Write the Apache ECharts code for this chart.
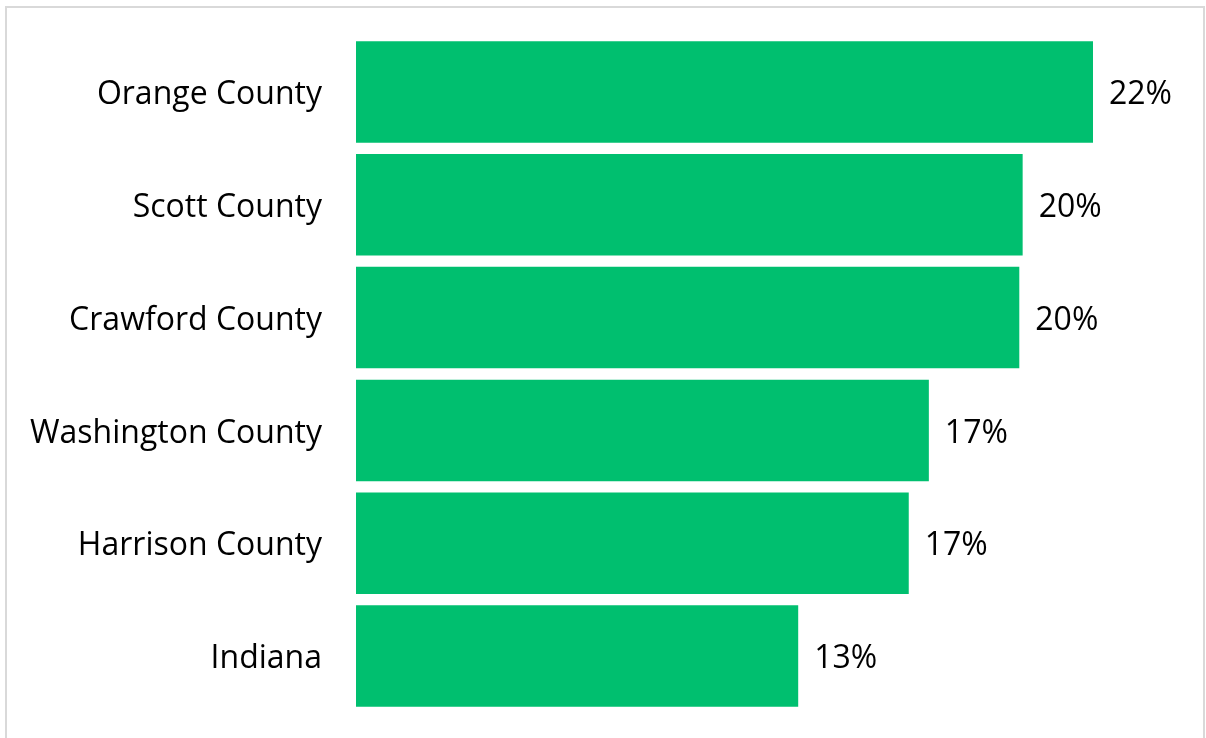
<!DOCTYPE html>
<html>
<head>
<meta charset="utf-8">
<script src="https://cdn.jsdelivr.net/npm/echarts@6/dist/echarts.min.js"></script>
<style>
  html, body { margin: 0; padding: 0; background: #fff; }
  #chart { width: 1206px; height: 738px; }
</style>
</head>
<body>
<div id="chart"></div>
<script>
// Share of population by area
const categories = ['Orange County', 'Scott County', 'Crawford County', 'Washington County', 'Harrison County', 'Indiana'];
const shares = [0.22, 0.199, 0.198, 0.171, 0.165, 0.132];

const FONT = '"Open Sans", Lato, sans-serif';

const chart = echarts.init(document.getElementById('chart'), null, { renderer: 'canvas' });
chart.setOption({
  animation: false,
  backgroundColor: '#ffffff',
  graphic: [{
    type: 'rect',
    shape: { x: 6, y: 7, width: 1198, height: 740 },
    style: { fill: 'none', stroke: '#d9d9d9', lineWidth: 2 },
    silent: true
  }],
  grid: { left: 356, right: 12.5, top: 35.5, bottom: 25.5 },
  xAxis: {
    type: 'value',
    min: 0,
    max: 0.25,
    show: false
  },
  yAxis: {
    type: 'category',
    data: categories,
    inverse: true,
    axisLine: { show: false },
    axisTick: { show: false },
    axisLabel: {
      margin: 34,
      color: '#000',
      fontFamily: FONT,
      fontSize: 32,
      formatter: v => '{n|' + v + '}',
      rich: {
        n: {
          color: '#000',
          fontFamily: FONT,
          fontSize: 32,
          padding: [6, 0, 0, 0]
        }
      }
    }
  },
  series: [{
    type: 'bar',
    data: shares,
    barCategoryGap: '10%',
    itemStyle: { color: '#00BF6F' },
    label: {
      show: true,
      position: 'right',
      distance: 16,
      offset: [0, 3],
      color: '#000',
      fontFamily: FONT,
      fontSize: 32,
      formatter: p => Math.round(p.value * 100) + '%'
    }
  }]
});
</script>
</body>
</html>
